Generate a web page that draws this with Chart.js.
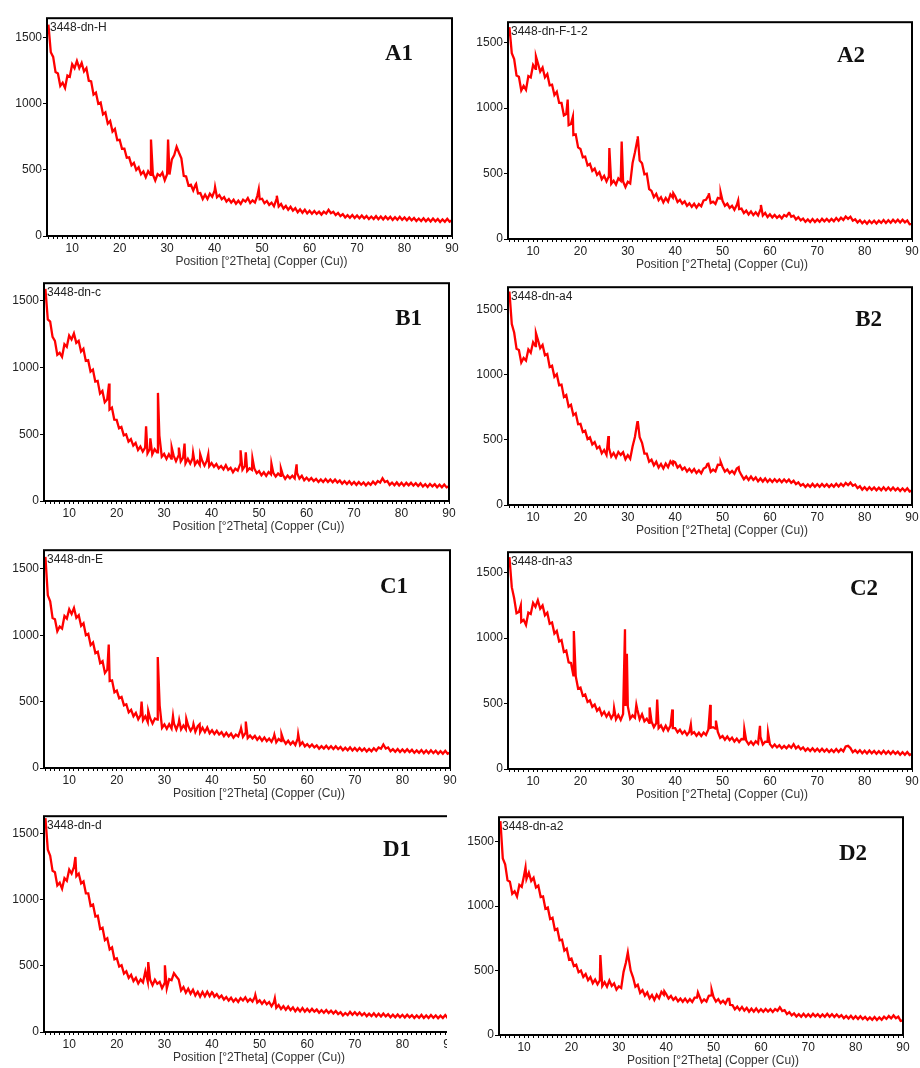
<!DOCTYPE html>
<html>
<head>
<meta charset="utf-8">
<script src="https://cdn.jsdelivr.net/npm/chart.js@4.4.1/dist/chart.umd.min.js"></script>
<style>
  html, body { margin: 0; padding: 0; background: #fff; }
  body { position: relative; width: 920px; height: 1068px; overflow: hidden; }
  .panel { position: absolute; overflow: hidden; }
  .panel canvas { display: block; }
</style>
</head>
<body>
<script>
// Scan grid: counts are read every 0.5 deg from 5 deg, sharp reflections listed separately
const thetaStart = 5;
const thetaStep = 0.5;

const xMajorTicks = [10, 20, 30, 40, 50, 60, 70, 80, 90];
const yTicks = [0, 500, 1000, 1500];

// A1 - 3448-dn-H
const a1Counts = [
  1600,1390,1355,1240,1230,1135,1160,1120,1215,1205,
  1300,1270,1325,1270,1310,1245,1270,1175,1170,1070,
  1085,1000,1010,920,935,850,870,790,810,725,
  728,660,660,592,595,535,553,500,520,467,
  488,445,490,462,465,420,468,455,480,422,
  468,465,580,612,675,630,588,455,450,382,
  388,345,390,322,325,280,313,280,320,297,
  342,293,310,278,294,261,280,253,274,244,
  267,243,275,260,287,250,270,253,304,278,
  282,248,265,235,252,225,275,223,242,208,
  228,198,221,192,210,179,201,176,199,171,
  191,169,189,167,184,162,184,170,198,173,
  183,158,175,150,165,140,158,138,159,136,
  155,134,155,134,151,128,147,128,150,127,
  147,126,148,127,145,122,142,123,145,122,
  140,119,140,119,136,113,132,113,134,111,
  131,110,132,111,129,106,126,108,130,108,
  120
];
const a1PeakTheta = [26.6, 30.2, 36.1, 40.1, 49.3, 53.1];
const a1PeakCounts = [730, 730, 395, 370, 355, 305];

// A2 - 3448-dn-F-1-2
const a2Counts = [
  1620,1420,1375,1250,1240,1135,1170,1140,1245,1235,
  1330,1300,1345,1280,1310,1235,1260,1175,1180,1100,
  1125,1040,1040,945,955,870,880,795,800,700,
  688,625,630,562,575,520,538,490,510,457,
  483,440,480,422,445,415,463,445,440,397,
  438,425,580,662,755,600,578,495,500,382,
  368,320,345,297,320,280,313,285,340,317,
  327,283,300,270,287,253,272,246,269,240,
  267,250,295,300,332,275,285,268,314,308,
  292,253,270,238,254,223,260,228,232,198,
  217,188,211,183,204,180,225,180,199,168,
  188,165,184,162,178,158,183,172,200,170,
  178,150,167,142,156,131,149,130,152,130,
  150,131,154,135,154,133,153,136,160,140,
  163,146,172,154,170,140,151,126,144,120,
  138,117,140,121,140,119,140,123,145,123,
  143,124,147,128,147,126,147,127,142,112,
  115
];
const a2PeakTheta = [10.6, 17.3, 18.4, 26.1, 28.7, 32.1, 39.6, 47.1, 49.6, 53.3, 58.1, 64.1];
const a2PeakCounts = [1395, 1065, 935, 695, 745, 785, 350, 350, 355, 295, 260, 200];

// B1 - 3448-dn-c
const b1Counts = [
  1590,1360,1345,1230,1200,1095,1110,1080,1175,1155,
  1240,1210,1255,1185,1200,1120,1140,1050,1055,970,
  985,895,900,805,825,740,760,685,700,610,
  608,545,555,492,500,445,463,415,435,382,
  408,370,400,357,390,350,388,365,490,332,
  353,315,350,317,340,298,338,297,325,282,
  316,280,320,272,300,270,303,265,302,260,
  284,256,277,245,262,237,268,233,249,216,
  242,228,275,235,262,225,245,233,244,208,
  224,193,215,188,217,200,210,183,206,188,
  197,166,190,170,190,170,210,168,189,156,
  175,153,172,150,166,143,162,143,164,142,
  161,140,160,138,154,130,148,128,148,124,
  142,121,142,122,139,117,138,121,145,126,
  150,138,170,142,150,121,138,118,139,116,
  136,115,136,117,136,115,133,112,132,108,
  126,105,128,109,126,103,122,103,124,102,
  111
];
const b1PeakTheta = [18.4, 26.2, 27.1, 28.7, 31.6, 33.1, 34.3, 36.1, 37.6, 39.3, 46.1, 47.2, 48.6, 52.6, 54.6, 57.9];
const b1PeakCounts = [880, 560, 470, 810, 400, 400, 430, 360, 350, 350, 380, 365, 320, 280, 245, 275];

// B2 - 3448-dn-a4
const b2Counts = [
  1640,1390,1325,1200,1190,1095,1130,1110,1195,1170,
  1250,1220,1270,1205,1230,1150,1160,1060,1070,985,
  1005,920,925,830,845,755,770,690,705,620,
  623,560,570,507,520,465,483,435,450,397,
  423,385,440,372,400,365,408,385,405,352,
  383,355,450,522,635,520,478,395,395,332,
  348,305,332,287,315,280,318,290,335,312,
  327,288,305,272,288,257,278,253,276,246,
  267,243,280,290,317,255,272,258,309,308,
  292,256,273,244,262,240,280,263,229,198,
  219,193,219,192,212,182,204,180,204,177,
  198,177,198,178,196,175,196,176,195,170,
  186,160,174,148,161,138,158,140,162,140,
  160,140,162,142,160,138,158,140,163,142,
  163,145,169,152,172,148,158,130,144,118,
  136,115,137,117,135,113,133,114,136,114,
  134,113,134,113,130,108,128,108,128,104,
  112
];
const b2PeakTheta = [10.6, 25.9, 32.1, 39.6, 46.8, 49.6, 53.4];
const b2PeakCounts = [1320, 530, 645, 335, 315, 330, 290];

// C1 - 3448-dn-E
const c1Counts = [
  1590,1300,1255,1130,1120,1030,1065,1050,1145,1125,
  1195,1160,1205,1130,1150,1070,1090,1000,1010,925,
  945,865,875,790,805,715,740,655,660,570,
  583,525,535,472,480,420,438,390,415,367,
  398,360,390,347,375,335,373,365,470,302,
  328,295,330,297,335,290,338,290,320,292,
  318,280,310,274,315,270,303,270,305,262,
  284,256,280,252,270,240,265,238,259,228,
  252,238,285,235,262,225,245,223,242,213,
  234,206,230,202,222,197,235,193,219,203,
  212,183,205,178,198,173,220,173,194,163,
  180,158,177,155,170,146,165,146,167,145,
  164,143,164,142,158,134,153,134,155,132,
  151,130,151,130,147,124,144,126,149,130,
  155,145,177,147,155,126,142,122,143,120,
  140,120,141,120,137,114,133,114,135,112,
  132,111,133,112,130,107,127,108,130,107,
  117
];
const c1PeakTheta = [18.3, 25.2, 26.6, 28.6, 31.8, 33.1, 34.6, 36.1, 37.4, 46.1, 47.1, 53.1, 54.6, 58.1];
const c1PeakCounts = [930, 500, 430, 835, 390, 360, 370, 330, 330, 300, 350, 250, 255, 255];

// C2 - 3448-dn-a3
const c2Counts = [
  1620,1390,1305,1190,1200,1125,1140,1100,1195,1185,
  1270,1240,1290,1225,1250,1175,1195,1110,1120,1035,
  1055,975,985,895,905,815,810,715,710,615,
  623,560,570,512,525,475,493,445,465,412,
  438,400,430,387,420,380,413,375,420,482,
  478,385,410,392,455,380,418,365,385,352,
  363,320,350,312,333,295,330,295,330,312,
  312,280,300,270,290,260,285,268,282,254,
  277,252,279,260,302,315,320,308,284,238,
  252,224,248,220,240,210,232,206,229,228,
  217,188,210,185,212,195,245,188,209,208,
  190,167,187,165,182,158,177,158,180,162,
  190,158,174,150,165,140,158,138,159,136,
  155,134,155,134,151,129,148,130,152,130,
  151,135,172,177,160,128,144,124,144,121,
  140,119,141,120,138,116,136,117,139,117,
  136,115,136,115,132,109,128,109,130,107,
  116
];
const c2PeakTheta = [7.4, 18.6, 27.1, 29.4, 29.8, 31.8, 34.6, 36.2, 39.4, 43.3, 47.4, 48.6, 54.6, 57.9, 59.6];
const c2PeakCounts = [1250, 1055, 465, 1068, 880, 490, 470, 530, 455, 340, 490, 370, 305, 330, 280];

// D1 - 3448-dn-d
const d1Counts = [
  1620,1380,1335,1220,1210,1110,1130,1085,1165,1145,
  1230,1200,1250,1180,1200,1125,1140,1050,1050,955,
  965,875,880,780,790,695,710,625,640,550,
  558,495,505,442,460,410,433,385,410,367,
  398,375,460,382,395,355,396,365,380,332,
  368,330,400,392,445,420,398,315,340,297,
  328,290,320,277,305,268,303,270,305,272,
  302,268,287,258,276,245,265,238,260,231,
  252,228,257,238,262,230,250,230,264,223,
  240,213,237,210,227,195,225,183,204,174,
  195,169,193,166,186,157,180,156,181,154,
  175,154,175,154,170,146,165,146,167,144,
  162,140,159,136,150,125,144,128,152,131,
  150,128,148,126,143,120,139,120,141,118,
  138,117,139,118,135,112,131,112,133,111,
  130,110,131,111,128,106,125,107,129,106,
  126,106,128,108,126,104,124,106,128,106,
  116
];
const d1PeakTheta = [11.3, 26.6, 30.1, 40.1, 49.1, 53.2];
const d1PeakCounts = [1325, 530, 505, 300, 280, 255];

// D2 - 3448-dn-a2
const d2Counts = [
  1660,1370,1325,1200,1190,1095,1115,1075,1165,1150,
  1240,1210,1260,1195,1220,1145,1160,1070,1075,980,
  990,900,910,815,825,735,740,655,670,585,
  593,535,545,487,500,450,473,425,450,402,
  430,393,425,380,410,375,423,380,400,352,
  378,365,490,562,615,500,448,375,390,327,
  348,305,330,284,310,272,313,285,335,312,
  317,283,303,273,292,261,282,258,282,255,
  278,256,290,290,302,255,276,260,304,308,
  294,260,279,248,266,243,280,233,232,200,
  220,193,218,190,210,181,204,181,206,179,
  200,180,202,182,200,179,201,188,215,185,
  192,162,177,152,167,143,161,142,164,142,
  162,142,164,144,162,140,160,142,164,142,
  162,140,160,138,154,130,148,128,149,126,
  145,124,145,124,141,118,137,118,140,117,
  137,118,142,125,147,129,152,130,142,110,
  114
];
const d2PeakTheta = [10.3, 26.1, 31.9, 39.6, 46.7, 49.6, 53.3, 64.1];
const d2PeakCounts = [1300, 620, 640, 340, 330, 350, 280, 210];

// page layout: plot box [left, top, right, bottom] in page px
const panels = [
  { key: 'A1', sample: '3448-dn-H', counts: a1Counts, peakTheta: a1PeakTheta, peakCounts: a1PeakCounts, box: [47, 14, 452, 236], yMax: 1648, labelDx: 39, labelDy: 36 },
  { key: 'A2', sample: '3448-dn-F-1-2', counts: a2Counts, peakTheta: a2PeakTheta, peakCounts: a2PeakCounts, box: [508, 18, 912, 239], yMax: 1657, labelDx: 47, labelDy: 34 },
  { key: 'B1', sample: '3448-dn-c', counts: b1Counts, peakTheta: b1PeakTheta, peakCounts: b1PeakCounts, box: [44, 279, 449, 501], yMax: 1632, labelDx: 27, labelDy: 36 },
  { key: 'B2', sample: '3448-dn-a4', counts: b2Counts, peakTheta: b2PeakTheta, peakCounts: b2PeakCounts, box: [508, 283, 912, 505], yMax: 1673, labelDx: 30, labelDy: 33 },
  { key: 'C1', sample: '3448-dn-E', counts: c1Counts, peakTheta: c1PeakTheta, peakCounts: c1PeakCounts, box: [44, 546, 450, 768], yMax: 1640, labelDx: 42, labelDy: 37 },
  { key: 'C2', sample: '3448-dn-a3', counts: c2Counts, peakTheta: c2PeakTheta, peakCounts: c2PeakCounts, box: [508, 548, 912, 769], yMax: 1657, labelDx: 34, labelDy: 37 },
  { key: 'D1', sample: '3448-dn-d', counts: d1Counts, peakTheta: d1PeakTheta, peakCounts: d1PeakCounts, box: [44, 812, 450, 1032], yMax: 1634, labelDx: 39, labelDy: 34, clipRight: 447 },
  { key: 'D2', sample: '3448-dn-a2', counts: d2Counts, peakTheta: d2PeakTheta, peakCounts: d2PeakCounts, box: [499, 813, 903, 1035], yMax: 1690, labelDx: 36, labelDy: 37 }
];

const yAxisW = 44, xAxisH = 40, padTop = 4, padRight = 12;
const thetaMin = 4.7, thetaMax = 90;

// minor ticks every degree, labels only on the majors
const xMinorTicks = [];
for (let v = 5; v <= thetaMax; v++) xMinorTicks.push(v);

Chart.defaults.font.family = "'Liberation Sans', Arial, sans-serif";
Chart.defaults.font.size = 12;
Chart.defaults.color = '#333';

function buildPoints(counts, peakTheta, peakCounts) {
  const pts = counts.map((c, i) => ({ x: thetaStart + i * thetaStep, y: c }));
  peakTheta.forEach((t, i) => pts.push({ x: t, y: peakCounts[i] }));
  return pts.sort((p, q) => p.x - q.x);
}

// box frame, sample name, axis title and panel letter
const framePlugin = {
  id: 'frame',
  afterDraw(chart, args, opts) {
    const ctx = chart.ctx;
    const a = chart.chartArea;
    ctx.save();
    ctx.strokeStyle = '#000';
    ctx.lineWidth = 2;
    ctx.strokeRect(a.left, a.top, a.right - a.left, a.bottom - a.top);

    ctx.fillStyle = '#222';
    ctx.font = "12px 'Liberation Sans', Arial, sans-serif";
    ctx.textAlign = 'left';
    ctx.textBaseline = 'top';
    ctx.fillText(opts.sample, a.left + 3, a.top + 3);

    ctx.fillStyle = '#333';
    ctx.textAlign = 'center';
    ctx.textBaseline = 'middle';
    ctx.fillText('Position [°2Theta] (Copper (Cu))', (a.left + a.right) / 2 + 12, a.bottom + 26);

    ctx.fillStyle = '#111';
    ctx.font = "bold 23px 'Liberation Serif', 'Times New Roman', serif";
    ctx.textAlign = 'right';
    ctx.fillText(opts.key, a.right - opts.labelDx, a.top + opts.labelDy);
    ctx.restore();
  }
};

panels.forEach(p => {
  const [l, t, r, b] = p.box;
  const left = l - yAxisW, top = t - padTop;
  const w = r - l + yAxisW + padRight, h = b - t + padTop + xAxisH;

  const div = document.createElement('div');
  div.className = 'panel';
  div.style.left = left + 'px';
  div.style.top = top + 'px';
  div.style.width = (p.clipRight ? p.clipRight - left : w) + 'px';
  div.style.height = h + 'px';
  const canvas = document.createElement('canvas');
  canvas.width = w;
  canvas.height = h;
  canvas.style.width = w + 'px';
  canvas.style.height = h + 'px';
  div.appendChild(canvas);
  document.body.appendChild(div);

  new Chart(canvas, {
    type: 'line',
    data: {
      datasets: [{
        data: buildPoints(p.counts, p.peakTheta, p.peakCounts),
        borderColor: '#ff0000',
        borderWidth: 2.3,
        borderJoinStyle: 'miter',
        pointRadius: 0,
        tension: 0
      }]
    },
    options: {
      responsive: false,
      animation: false,
      layout: { padding: { top: padTop, right: padRight, left: 0, bottom: 0 } },
      plugins: {
        legend: { display: false },
        tooltip: { enabled: false },
        frame: { sample: p.sample, key: p.key, labelDx: p.labelDx, labelDy: p.labelDy }
      },
      scales: {
        x: {
          type: 'linear',
          min: thetaMin,
          max: thetaMax,
          afterBuildTicks: s => { s.ticks = xMinorTicks.map(v => ({ value: v })); },
          afterFit: s => { s.height = xAxisH; },
          ticks: {
            autoSkip: false,
            maxRotation: 0,
            padding: 2,
            color: '#222',
            callback: v => xMajorTicks.includes(v) ? String(v) : ''
          },
          grid: { drawOnChartArea: false, tickLength: 3, tickColor: '#000' },
          border: { display: false }
        },
        y: {
          min: 0,
          max: p.yMax,
          afterBuildTicks: s => { s.ticks = yTicks.map(v => ({ value: v })); },
          afterFit: s => { s.width = yAxisW; },
          ticks: { padding: 1, color: '#222', callback: v => String(v) },
          grid: { drawOnChartArea: false, tickLength: 4, tickColor: '#000' },
          border: { display: false }
        }
      }
    },
    plugins: [framePlugin]
  });
});
</script>
</body>
</html>
